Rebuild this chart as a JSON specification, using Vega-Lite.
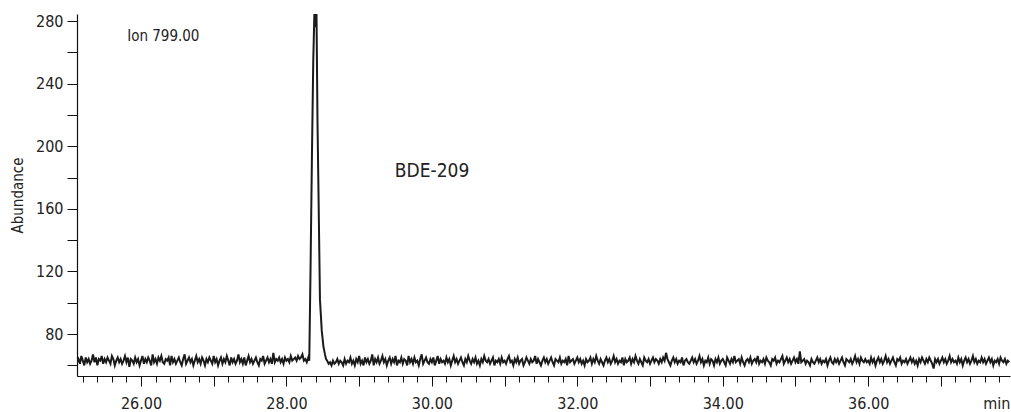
{
  "$schema": "https://vega.github.io/schema/vega-lite/v6.json",
  "width": 933,
  "height": 362,
  "autosize": "none",
  "padding": {"left": 77, "top": 14, "right": 1, "bottom": 36},
  "background": "white",
  "config": {
    "view": {"stroke": null},
    "font": "Liberation Sans Narrow, DejaVu Sans Condensed, Roboto",
    "axis": {"domainColor": "#111", "tickColor": "#111", "labelColor": "#222", "titleColor": "#222", "grid": false, "domainWidth": 1.2, "tickWidth": 1, "labelOverlap": false}
  },
  "encoding": {
    "x": {
      "field": "t", "type": "quantitative",
      "scale": {"domain": [25.12, 37.95], "nice": false, "zero": false},
      "axis": {
        "values": [25.2,25.4,25.6,25.8,26,26.2,26.4,26.6,26.8,27,27.2,27.4,27.6,27.8,28,28.2,28.4,28.6,28.8,29,29.2,29.4,29.6,29.8,30,30.2,30.4,30.6,30.8,31,31.2,31.4,31.6,31.8,32,32.2,32.4,32.6,32.8,33,33.2,33.4,33.6,33.8,34,34.2,34.4,34.6,34.8,35,35.2,35.4,35.6,35.8,36,36.2,36.4,36.6,36.8,37,37.2,37.4,37.6,37.8],
        "labelExpr": "abs(datum.value - round(datum.value)) < 0.001 && round(datum.value) % 2 == 0 ? format(datum.value, '.2f') : ''",
        "tickSize": {"condition": {"test": "abs(datum.value - round(datum.value)) < 0.001", "value": 10}, "value": 6},
        "labelPadding": 9,
        "labelFontSize": 16,
        "labelFlush": false,
        "labelOverlap": false,
        "title": "min",
        "titleFontSize": 16,
        "titleFontWeight": "normal",
        "titleAnchor": "end",
        "titleAlign": "right",
        "titleX": 933,
        "titleY": 32,
        "titleBaseline": "alphabetic"
      }
    },
    "y": {
      "field": "a", "type": "quantitative",
      "scale": {"domain": [53.2, 284.5], "nice": false, "zero": false},
      "axis": {
        "values": [60,80,100,120,140,160,180,200,220,240,260,280],
        "labelExpr": "datum.value % 40 == 0 ? datum.label : ''",
        "tickSize": 10,
        "labelPadding": 4,
        "labelFontSize": 16,
        "labelOverlap": false,
        "title": "Abundance",
        "titleFontSize": 15,
        "titleFontWeight": "normal",
        "titlePadding": 10
      }
    }
  },
  "layer": [
    {
      "data": {"values": [
{"t":25.12,"a":62},{"t":25.14,"a":64},{"t":25.16,"a":61},{"t":25.18,"a":66},{"t":25.2,"a":63},{"t":25.22,"a":60},{"t":25.24,"a":65},{"t":25.26,"a":62},{"t":25.28,"a":64},{"t":25.3,"a":61},
{"t":25.32,"a":63},{"t":25.34,"a":67},{"t":25.36,"a":62},{"t":25.38,"a":65},{"t":25.4,"a":60},{"t":25.42,"a":64},{"t":25.44,"a":63},{"t":25.46,"a":66},{"t":25.48,"a":61},{"t":25.5,"a":64},
{"t":25.52,"a":62},{"t":25.54,"a":65},{"t":25.56,"a":63},{"t":25.58,"a":61},{"t":25.6,"a":66},{"t":25.62,"a":64},{"t":25.64,"a":60},{"t":25.66,"a":63},{"t":25.68,"a":65},{"t":25.7,"a":62},
{"t":25.72,"a":64},{"t":25.74,"a":61},{"t":25.76,"a":63},{"t":25.78,"a":66},{"t":25.8,"a":62},{"t":25.82,"a":65},{"t":25.84,"a":59},{"t":25.86,"a":64},{"t":25.88,"a":63},{"t":25.9,"a":61},
{"t":25.92,"a":65},{"t":25.94,"a":62},{"t":25.96,"a":64},{"t":25.98,"a":60},{"t":26.0,"a":63},{"t":26.02,"a":66},{"t":26.04,"a":61},{"t":26.06,"a":64},{"t":26.08,"a":62},{"t":26.1,"a":65},
{"t":26.12,"a":63},{"t":26.14,"a":60},{"t":26.16,"a":67},{"t":26.18,"a":62},{"t":26.2,"a":64},{"t":26.22,"a":61},{"t":26.24,"a":65},{"t":26.26,"a":63},{"t":26.28,"a":66},{"t":26.3,"a":62},
{"t":26.32,"a":61},{"t":26.34,"a":64},{"t":26.36,"a":63},{"t":26.38,"a":65},{"t":26.4,"a":60},{"t":26.42,"a":66},{"t":26.44,"a":62},{"t":26.46,"a":64},{"t":26.48,"a":61},{"t":26.5,"a":63},
{"t":26.52,"a":65},{"t":26.54,"a":62},{"t":26.56,"a":60},{"t":26.58,"a":64},{"t":26.6,"a":67},{"t":26.62,"a":61},{"t":26.64,"a":63},{"t":26.66,"a":65},{"t":26.68,"a":62},{"t":26.7,"a":64},
{"t":26.72,"a":60},{"t":26.74,"a":63},{"t":26.76,"a":66},{"t":26.78,"a":62},{"t":26.8,"a":64},{"t":26.82,"a":61},{"t":26.84,"a":65},{"t":26.86,"a":63},{"t":26.88,"a":60},{"t":26.9,"a":64},
{"t":26.92,"a":62},{"t":26.94,"a":65},{"t":26.96,"a":63},{"t":26.98,"a":61},{"t":27.0,"a":66},{"t":27.02,"a":62},{"t":27.04,"a":64},{"t":27.06,"a":60},{"t":27.08,"a":63},{"t":27.1,"a":65},
{"t":27.12,"a":61},{"t":27.14,"a":64},{"t":27.16,"a":62},{"t":27.18,"a":66},{"t":27.2,"a":63},{"t":27.22,"a":60},{"t":27.24,"a":65},{"t":27.26,"a":62},{"t":27.28,"a":64},{"t":27.3,"a":61},
{"t":27.32,"a":63},{"t":27.34,"a":67},{"t":27.36,"a":62},{"t":27.38,"a":64},{"t":27.4,"a":61},{"t":27.42,"a":65},{"t":27.44,"a":60},{"t":27.46,"a":63},{"t":27.48,"a":66},{"t":27.5,"a":62},
{"t":27.52,"a":64},{"t":27.54,"a":61},{"t":27.56,"a":63},{"t":27.58,"a":65},{"t":27.6,"a":62},{"t":27.62,"a":60},{"t":27.64,"a":64},{"t":27.66,"a":63},{"t":27.68,"a":66},{"t":27.7,"a":61},
{"t":27.72,"a":63},{"t":27.74,"a":65},{"t":27.76,"a":62},{"t":27.78,"a":64},{"t":27.8,"a":61},{"t":27.82,"a":68},{"t":27.84,"a":62},{"t":27.86,"a":64},{"t":27.88,"a":63},{"t":27.9,"a":65},
{"t":27.92,"a":62},{"t":27.94,"a":64},{"t":27.96,"a":61},{"t":27.98,"a":65},{"t":28.0,"a":63},{"t":28.02,"a":64},{"t":28.04,"a":62},{"t":28.06,"a":66},{"t":28.08,"a":63},{"t":28.1,"a":64},
{"t":28.12,"a":65},{"t":28.14,"a":63},{"t":28.16,"a":66},{"t":28.18,"a":64},{"t":28.2,"a":65},{"t":28.22,"a":67},{"t":28.24,"a":63},
{"t":28.26,"a":64},{"t":28.28,"a":62},{"t":28.3,"a":65},{"t":28.314,"a":63},{"t":28.331,"a":120},{"t":28.351,"a":195},{"t":28.369,"a":255},{"t":28.386,"a":288},{"t":28.399,"a":276},{"t":28.413,"a":287},{"t":28.427,"a":216},{"t":28.441,"a":170},{"t":28.461,"a":102},{"t":28.486,"a":82},{"t":28.509,"a":72},{"t":28.53,"a":67},{"t":28.545,"a":64},
{"t":28.56,"a":63},{"t":28.58,"a":61},{"t":28.6,"a":62},{"t":28.62,"a":60},{"t":28.64,"a":63},{"t":28.66,"a":61},{"t":28.68,"a":62},{"t":28.7,"a":64},{"t":28.72,"a":61},{"t":28.74,"a":63},
{"t":28.76,"a":62},{"t":28.78,"a":60},{"t":28.8,"a":64},{"t":28.82,"a":61},{"t":28.84,"a":63},{"t":28.86,"a":62},{"t":28.88,"a":65},{"t":28.9,"a":61},{"t":28.92,"a":63},{"t":28.94,"a":60},
{"t":28.96,"a":64},{"t":28.98,"a":62},{"t":29.0,"a":66},{"t":29.02,"a":61},{"t":29.04,"a":63},{"t":29.06,"a":60},{"t":29.08,"a":65},{"t":29.1,"a":62},{"t":29.12,"a":64},{"t":29.14,"a":61},
{"t":29.16,"a":63},{"t":29.18,"a":67},{"t":29.2,"a":60},{"t":29.22,"a":64},{"t":29.24,"a":62},{"t":29.26,"a":65},{"t":29.28,"a":61},{"t":29.3,"a":63},{"t":29.32,"a":66},{"t":29.34,"a":62},
{"t":29.36,"a":64},{"t":29.38,"a":60},{"t":29.4,"a":63},{"t":29.42,"a":65},{"t":29.44,"a":61},{"t":29.46,"a":64},{"t":29.48,"a":62},{"t":29.5,"a":66},{"t":29.52,"a":60},{"t":29.54,"a":63},
{"t":29.56,"a":62},{"t":29.58,"a":65},{"t":29.6,"a":61},{"t":29.62,"a":64},{"t":29.64,"a":63},{"t":29.66,"a":60},{"t":29.68,"a":66},{"t":29.7,"a":62},{"t":29.72,"a":64},{"t":29.74,"a":61},
{"t":29.76,"a":65},{"t":29.78,"a":62},{"t":29.8,"a":63},{"t":29.82,"a":60},{"t":29.84,"a":64},{"t":29.86,"a":67},{"t":29.88,"a":61},{"t":29.9,"a":63},{"t":29.92,"a":65},{"t":29.94,"a":62},
{"t":29.96,"a":61},{"t":29.98,"a":64},{"t":30.0,"a":62},{"t":30.02,"a":65},{"t":30.04,"a":60},{"t":30.06,"a":63},{"t":30.08,"a":66},{"t":30.1,"a":61},{"t":30.12,"a":64},{"t":30.14,"a":62},
{"t":30.16,"a":63},{"t":30.18,"a":61},{"t":30.2,"a":65},{"t":30.22,"a":62},{"t":30.24,"a":64},{"t":30.26,"a":60},{"t":30.28,"a":63},{"t":30.3,"a":66},{"t":30.32,"a":62},{"t":30.34,"a":64},
{"t":30.36,"a":61},{"t":30.38,"a":63},{"t":30.4,"a":65},{"t":30.42,"a":62},{"t":30.44,"a":60},{"t":30.46,"a":64},{"t":30.48,"a":62},{"t":30.5,"a":66},{"t":30.52,"a":63},{"t":30.54,"a":61},
{"t":30.56,"a":64},{"t":30.58,"a":62},{"t":30.6,"a":65},{"t":30.62,"a":61},{"t":30.64,"a":63},{"t":30.66,"a":60},{"t":30.68,"a":64},{"t":30.7,"a":62},{"t":30.72,"a":66},{"t":30.74,"a":63},
{"t":30.76,"a":62},{"t":30.78,"a":64},{"t":30.8,"a":61},{"t":30.82,"a":63},{"t":30.84,"a":65},{"t":30.86,"a":60},{"t":30.88,"a":63},{"t":30.9,"a":62},{"t":30.92,"a":64},{"t":30.94,"a":61},
{"t":30.96,"a":65},{"t":30.98,"a":62},{"t":31.0,"a":63},{"t":31.02,"a":61},{"t":31.04,"a":64},{"t":31.06,"a":66},{"t":31.08,"a":62},{"t":31.1,"a":63},{"t":31.12,"a":60},{"t":31.14,"a":64},
{"t":31.16,"a":62},{"t":31.18,"a":65},{"t":31.2,"a":61},{"t":31.22,"a":63},{"t":31.24,"a":64},{"t":31.26,"a":60},{"t":31.28,"a":62},{"t":31.3,"a":65},{"t":31.32,"a":63},{"t":31.34,"a":61},
{"t":31.36,"a":64},{"t":31.38,"a":62},{"t":31.4,"a":63},{"t":31.42,"a":66},{"t":31.44,"a":61},{"t":31.46,"a":64},{"t":31.48,"a":62},{"t":31.5,"a":60},{"t":31.52,"a":63},{"t":31.54,"a":65},
{"t":31.56,"a":62},{"t":31.58,"a":64},{"t":31.6,"a":61},{"t":31.62,"a":63},{"t":31.64,"a":65},{"t":31.66,"a":62},{"t":31.68,"a":60},{"t":31.7,"a":64},{"t":31.72,"a":63},{"t":31.74,"a":62},
{"t":31.76,"a":65},{"t":31.78,"a":61},{"t":31.8,"a":63},{"t":31.82,"a":62},{"t":31.84,"a":64},{"t":31.86,"a":60},{"t":31.88,"a":66},{"t":31.9,"a":62},{"t":31.92,"a":63},{"t":31.94,"a":64},
{"t":31.96,"a":61},{"t":31.98,"a":63},{"t":32.0,"a":65},{"t":32.02,"a":62},{"t":32.04,"a":64},{"t":32.06,"a":61},{"t":32.08,"a":63},{"t":32.1,"a":60},{"t":32.12,"a":64},{"t":32.14,"a":62},
{"t":32.16,"a":63},{"t":32.18,"a":65},{"t":32.2,"a":61},{"t":32.22,"a":64},{"t":32.24,"a":62},{"t":32.26,"a":66},{"t":32.28,"a":63},{"t":32.3,"a":61},{"t":32.32,"a":64},{"t":32.34,"a":62},
{"t":32.36,"a":60},{"t":32.38,"a":63},{"t":32.4,"a":65},{"t":32.42,"a":62},{"t":32.44,"a":64},{"t":32.46,"a":61},{"t":32.48,"a":63},{"t":32.5,"a":66},{"t":32.52,"a":62},{"t":32.54,"a":64},
{"t":32.56,"a":61},{"t":32.58,"a":63},{"t":32.6,"a":62},{"t":32.62,"a":65},{"t":32.64,"a":60},{"t":32.66,"a":64},{"t":32.68,"a":62},{"t":32.7,"a":63},{"t":32.72,"a":65},{"t":32.74,"a":61},
{"t":32.76,"a":64},{"t":32.78,"a":62},{"t":32.8,"a":66},{"t":32.82,"a":63},{"t":32.84,"a":61},{"t":32.86,"a":64},{"t":32.88,"a":62},{"t":32.9,"a":60},{"t":32.92,"a":65},{"t":32.94,"a":63},
{"t":32.96,"a":62},{"t":32.98,"a":64},{"t":33.0,"a":61},{"t":33.02,"a":63},{"t":33.04,"a":65},{"t":33.06,"a":62},{"t":33.08,"a":64},{"t":33.1,"a":63},{"t":33.12,"a":61},{"t":33.14,"a":64},
{"t":33.16,"a":62},{"t":33.18,"a":65},{"t":33.2,"a":63},{"t":33.22,"a":68},{"t":33.24,"a":64},{"t":33.26,"a":62},{"t":33.28,"a":60},{"t":33.3,"a":63},{"t":33.32,"a":65},{"t":33.34,"a":62},
{"t":33.36,"a":64},{"t":33.38,"a":61},{"t":33.4,"a":63},{"t":33.42,"a":62},{"t":33.44,"a":65},{"t":33.46,"a":60},{"t":33.48,"a":63},{"t":33.5,"a":64},{"t":33.52,"a":62},{"t":33.54,"a":61},
{"t":33.56,"a":63},{"t":33.58,"a":65},{"t":33.6,"a":62},{"t":33.62,"a":64},{"t":33.64,"a":61},{"t":33.66,"a":63},{"t":33.68,"a":66},{"t":33.7,"a":62},{"t":33.72,"a":64},{"t":33.74,"a":60},
{"t":33.76,"a":63},{"t":33.78,"a":62},{"t":33.8,"a":65},{"t":33.82,"a":61},{"t":33.84,"a":64},{"t":33.86,"a":63},{"t":33.88,"a":60},{"t":33.9,"a":64},{"t":33.92,"a":62},{"t":33.94,"a":65},
{"t":33.96,"a":61},{"t":33.98,"a":63},{"t":34.0,"a":64},{"t":34.02,"a":62},{"t":34.04,"a":60},{"t":34.06,"a":65},{"t":34.08,"a":63},{"t":34.1,"a":61},{"t":34.12,"a":64},{"t":34.14,"a":62},
{"t":34.16,"a":66},{"t":34.18,"a":62},{"t":34.2,"a":63},{"t":34.22,"a":64},{"t":34.24,"a":61},{"t":34.26,"a":65},{"t":34.28,"a":62},{"t":34.3,"a":60},{"t":34.32,"a":63},{"t":34.34,"a":64},
{"t":34.36,"a":62},{"t":34.38,"a":65},{"t":34.4,"a":61},{"t":34.42,"a":63},{"t":34.44,"a":64},{"t":34.46,"a":62},{"t":34.48,"a":66},{"t":34.5,"a":61},{"t":34.52,"a":63},{"t":34.54,"a":62},
{"t":34.56,"a":64},{"t":34.58,"a":61},{"t":34.6,"a":65},{"t":34.62,"a":63},{"t":34.64,"a":62},{"t":34.66,"a":60},{"t":34.68,"a":64},{"t":34.7,"a":63},{"t":34.72,"a":65},{"t":34.74,"a":61},
{"t":34.76,"a":63},{"t":34.78,"a":62},{"t":34.8,"a":64},{"t":34.82,"a":66},{"t":34.84,"a":61},{"t":34.86,"a":63},{"t":34.88,"a":65},{"t":34.9,"a":62},{"t":34.92,"a":64},{"t":34.94,"a":61},
{"t":34.96,"a":63},{"t":34.98,"a":65},{"t":35.0,"a":62},{"t":35.02,"a":64},{"t":35.04,"a":61},{"t":35.06,"a":69},{"t":35.08,"a":62},{"t":35.1,"a":63},{"t":35.12,"a":64},{"t":35.14,"a":61},
{"t":35.16,"a":63},{"t":35.18,"a":62},{"t":35.2,"a":60},{"t":35.22,"a":64},{"t":35.24,"a":62},{"t":35.26,"a":61},{"t":35.28,"a":63},{"t":35.3,"a":65},{"t":35.32,"a":62},{"t":35.34,"a":64},
{"t":35.36,"a":61},{"t":35.38,"a":63},{"t":35.4,"a":62},{"t":35.42,"a":64},{"t":35.44,"a":60},{"t":35.46,"a":63},{"t":35.48,"a":65},{"t":35.5,"a":62},{"t":35.52,"a":61},{"t":35.54,"a":64},
{"t":35.56,"a":62},{"t":35.58,"a":64},{"t":35.6,"a":61},{"t":35.62,"a":63},{"t":35.64,"a":65},{"t":35.66,"a":62},{"t":35.68,"a":60},{"t":35.7,"a":64},{"t":35.72,"a":63},{"t":35.74,"a":62},
{"t":35.76,"a":64},{"t":35.78,"a":61},{"t":35.8,"a":63},{"t":35.82,"a":66},{"t":35.84,"a":62},{"t":35.86,"a":64},{"t":35.88,"a":61},{"t":35.9,"a":65},{"t":35.92,"a":63},{"t":35.94,"a":62},
{"t":35.96,"a":64},{"t":35.98,"a":62},{"t":36.0,"a":63},{"t":36.02,"a":61},{"t":36.04,"a":65},{"t":36.06,"a":62},{"t":36.08,"a":64},{"t":36.1,"a":60},{"t":36.12,"a":63},{"t":36.14,"a":65},
{"t":36.16,"a":62},{"t":36.18,"a":64},{"t":36.2,"a":61},{"t":36.22,"a":63},{"t":36.24,"a":66},{"t":36.26,"a":62},{"t":36.28,"a":64},{"t":36.3,"a":61},{"t":36.32,"a":63},{"t":36.34,"a":65},
{"t":36.36,"a":62},{"t":36.38,"a":60},{"t":36.4,"a":64},{"t":36.42,"a":63},{"t":36.44,"a":65},{"t":36.46,"a":61},{"t":36.48,"a":63},{"t":36.5,"a":62},{"t":36.52,"a":64},{"t":36.54,"a":61},
{"t":36.56,"a":63},{"t":36.58,"a":65},{"t":36.6,"a":62},{"t":36.62,"a":64},{"t":36.64,"a":61},{"t":36.66,"a":63},{"t":36.68,"a":60},{"t":36.7,"a":64},{"t":36.72,"a":62},{"t":36.74,"a":65},
{"t":36.76,"a":63},{"t":36.78,"a":61},{"t":36.8,"a":64},{"t":36.82,"a":62},{"t":36.84,"a":65},{"t":36.86,"a":63},{"t":36.88,"a":61},{"t":36.9,"a":58},{"t":36.92,"a":64},{"t":36.94,"a":62},
{"t":36.96,"a":64},{"t":36.98,"a":61},{"t":37.0,"a":63},{"t":37.02,"a":65},{"t":37.04,"a":62},{"t":37.06,"a":64},{"t":37.08,"a":61},{"t":37.1,"a":63},{"t":37.12,"a":66},{"t":37.14,"a":62},
{"t":37.16,"a":64},{"t":37.18,"a":62},{"t":37.2,"a":63},{"t":37.22,"a":61},{"t":37.24,"a":65},{"t":37.26,"a":62},{"t":37.28,"a":64},{"t":37.3,"a":60},{"t":37.32,"a":63},{"t":37.34,"a":65},
{"t":37.36,"a":62},{"t":37.38,"a":64},{"t":37.4,"a":61},{"t":37.42,"a":63},{"t":37.44,"a":66},{"t":37.46,"a":62},{"t":37.48,"a":64},{"t":37.5,"a":61},{"t":37.52,"a":63},{"t":37.54,"a":62},
{"t":37.56,"a":65},{"t":37.58,"a":62},{"t":37.6,"a":64},{"t":37.62,"a":61},{"t":37.64,"a":63},{"t":37.66,"a":65},{"t":37.68,"a":62},{"t":37.7,"a":64},{"t":37.72,"a":60},{"t":37.74,"a":63},
{"t":37.76,"a":62},{"t":37.78,"a":64},{"t":37.8,"a":61},{"t":37.82,"a":65},{"t":37.84,"a":63},{"t":37.86,"a":62},{"t":37.88,"a":64},{"t":37.9,"a":61},{"t":37.92,"a":63},{"t":37.94,"a":62}
      ]},
      "mark": {"type": "line", "color": "#1a1a1a", "strokeWidth": 2, "clip": true}
    },
    {
      "data": {"values": [{"t": 25.81, "a": 270.4, "label": "Ion 799.00"}]},
      "mark": {"type": "text", "align": "left", "baseline": "middle", "fontSize": 15, "color": "#222"},
      "encoding": {"text": {"field": "label"}}
    },
    {
      "data": {"values": [{"t": 29.49, "a": 184.5, "label": "BDE-209"}]},
      "mark": {"type": "text", "align": "left", "baseline": "middle", "fontSize": 19, "color": "#222"},
      "encoding": {"text": {"field": "label"}}
    }
  ]
}
